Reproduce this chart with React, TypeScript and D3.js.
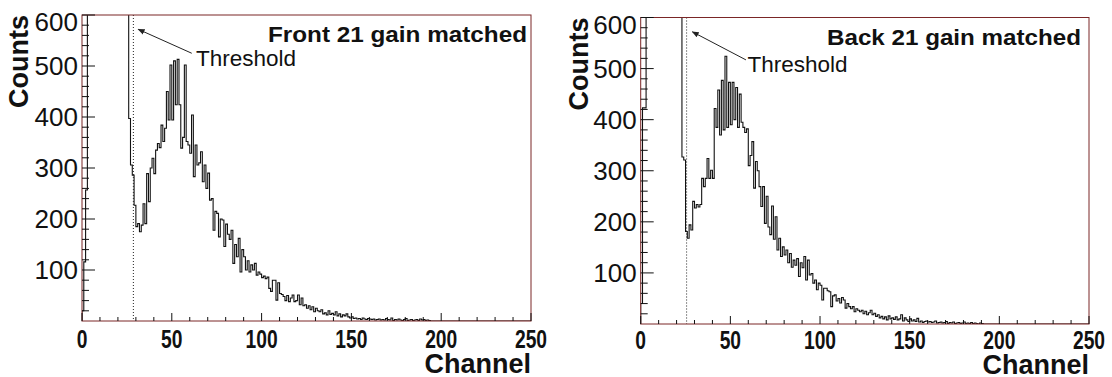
import React from "react";
import * as d3 from "d3";

// ---- Data (1000 = off-scale, clipped at 600) ----
const FRONT_COUNTS = [
  20, 116, 257, 1000, 1000, 1000, 1000, 1000, 1000, 1000,
  1000, 1000, 1000, 1000, 1000, 1000, 1000, 1000, 1000, 1000,
  1000, 1000, 1000, 1000, 1000, 1000, 397, 306, 286, 227,
  185, 191, 175, 188, 230, 191, 289, 234, 300, 319,
  289, 335, 348, 340, 384, 352, 378, 450, 394, 502,
  394, 510, 424, 513, 424, 339, 360, 502, 352, 345,
  329, 404, 283, 345, 306, 310, 332, 273, 306, 260,
  290, 237, 240, 178, 215, 211, 165, 200, 198, 146,
  190, 170, 160, 178, 113, 150, 126, 162, 96, 140,
  126, 100, 118, 96, 110, 100, 113, 90, 96, 92,
  85, 88, 83, 86, 64, 58, 80, 80, 41, 75,
  54, 52, 48, 40, 50, 38, 45, 51, 38, 40,
  51, 32, 45, 30, 32, 25, 30, 22, 28, 18,
  25, 20, 18, 22, 14, 16, 12, 20, 13, 15,
  12, 18, 10, 14, 8, 12, 10, 14, 8, 6,
  8, 5, 6, 4, 5, 3, 6, 4, 3, 5,
  4, 3, 4, 2, 3, 4, 2, 3, 2, 5,
  3, 2, 6, 1, 3, 2, 4, 2, 1, 3,
  5, 1, 2, 3, 1, 2, 3, 1, 4, 2,
  3, 1, 2, 1, 0, 0, 0, 0, 0, 0,
  0, 0, 0, 0, 0, 0, 0, 0, 0, 0,
  0, 0, 0, 0, 0, 0, 0, 0, 0, 0,
  0, 0, 0, 0, 0, 0, 0, 0, 0, 0,
  0, 0, 0, 0, 0, 0, 0, 0, 0, 0,
  0, 0, 0, 0, 0, 0, 0, 0, 0, 0,
];

const BACK_COUNTS = [
  40, 423, 423, 1000, 1000, 1000, 1000, 1000, 1000, 1000,
  1000, 1000, 1000, 1000, 1000, 1000, 1000, 1000, 1000, 1000,
  1000, 1000, 1000, 327, 321, 181, 168, 194, 184, 240,
  227, 234, 229, 234, 285, 269, 285, 324, 285, 301,
  285, 422, 385, 458, 370, 477, 380, 524, 385, 473,
  390, 473, 400, 463, 385, 450, 395, 385, 375, 382,
  310, 330, 357, 266, 318, 300, 269, 230, 269, 197,
  250, 190, 175, 231, 166, 210, 145, 168, 132, 151,
  135, 145, 120, 138, 111, 125, 115, 128, 93, 120,
  110, 132, 86, 125, 96, 99, 80, 86, 67, 80,
  76, 47, 70, 70, 65, 63, 34, 55, 57, 45,
  50, 41, 52, 47, 31, 40, 34, 30, 34, 24,
  30, 27, 24, 27, 20, 25, 18, 22, 27, 18,
  21, 15, 18, 12, 15, 10, 14, 8, 16, 10,
  12, 9, 14, 8, 10, 18, 6, 12, 8, 5,
  10, 6, 8, 5, 11, 4, 6, 3, 5, 6,
  4, 5, 3, 4, 6, 2, 3, 4, 2, 3,
  5, 1, 3, 2, 4, 1, 2, 3, 1, 2,
  4, 1, 2, 1, 3, 1, 2, 1, 0, 2,
  1, 0, 0, 0, 0, 0, 0, 0, 0, 0,
  0, 0, 0, 0, 0, 0, 0, 0, 0, 0,
  0, 0, 0, 0, 0, 0, 0, 0, 0, 0,
  0, 0, 0, 0, 0, 0, 0, 0, 0, 0,
  0, 0, 0, 0, 0, 0, 0, 0, 0, 0,
  0, 0, 0, 0, 0, 0, 0, 0, 0, 0,
];

const TITLES = ["Front 21 gain matched", "Back 21 gain matched"];
const THRESHOLDS = [28.6, 25.6];
const X_TICKS = [0, 50, 100, 150, 200, 250];
const Y_TICKS = [100, 200, 300, 400, 500, 600];
const X_DOMAIN = [0, 250];
const Y_DOMAIN = [0, 600];
// annotation anchor points in data units: [arrow tip, arrow tail, text]
const ANNOT_FRONT = [[31.3, 572], [61.1, 525], [63.5, 500]];
const ANNOT_BACK = [[28.8, 572], [58.7, 517], [59.6, 494]];

const W = 1112;
const H = 377;

const PANELS = [
  { id: "front", counts: FRONT_COUNTS, title: TITLES[0], thr: THRESHOLDS[0], annot: ANNOT_FRONT,
    x0: 82, x1: 531, yTop: 15, yBot: 321, titleEnd: 527, labelX: 28, titleW: 259,
    tickLabelY: 348, channelY: 372.5 },
  { id: "back", counts: BACK_COUNTS, title: TITLES[1], thr: THRESHOLDS[1], annot: ANNOT_BACK,
    x0: 640.7, x1: 1089, yTop: 17.5, yBot: 324, titleEnd: 1081, labelX: 588, titleW: 254,
    tickLabelY: 348.5, channelY: 373.5 },
];

const FRAME = "#7a2626";
const SANS = "'Liberation Sans', Arial, Helvetica, sans-serif";

function Panel({ p }: { p: any }) {
  const x = d3.scaleLinear().domain(X_DOMAIN).range([p.x0, p.x1]);
  const y = d3.scaleLinear().domain(Y_DOMAIN).range([p.yBot, p.yTop]);
  const pts: [number, number][] = [[0, 0]];
  p.counts.forEach((v: number, i: number) => pts.push([i, v]));
  pts.push([p.counts.length, p.counts[p.counts.length - 1]]);
  const line = d3
    .line<[number, number]>()
    .x((d) => x(d[0]))
    .y((d) => y(d[1]))
    .curve(d3.curveStepAfter);
  const clipId = "clip-" + p.id;
  const minorX = d3.range(0, 251, 10).filter((v) => v % 50 !== 0);
  const minorY = d3.range(20, 600, 20).filter((v) => v % 100 !== 0);
  const [tip, tail, txt] = p.annot;
  const markerId = "arrow-" + p.id;
  return (
    <g>
      <defs>
        <clipPath id={clipId}>
          <rect x={p.x0} y={p.yTop} width={p.x1 - p.x0} height={p.yBot - p.yTop} />
        </clipPath>
        <marker id={markerId} viewBox="0 0 10 10" refX="9" refY="5" markerWidth="7" markerHeight="7" orient="auto-start-reverse" markerUnits="userSpaceOnUse">
          <path d="M0,1 L10,5 L0,9 Z" fill="#222" />
        </marker>
      </defs>
      {/* histogram */}
      <path d={line(pts) || ""} fill="none" stroke="#111" strokeWidth={1.1} clipPath={`url(#${clipId})`} />
      {/* threshold dotted line */}
      <line x1={x(p.thr)} x2={x(p.thr)} y1={p.yTop} y2={p.yBot} stroke="#222" strokeWidth={1} strokeDasharray="1,2" />
      {/* frame */}
      <rect x={p.x0} y={p.yTop} width={p.x1 - p.x0} height={p.yBot - p.yTop} fill="none" stroke={FRAME} strokeWidth={1} />
      {/* ticks */}
      {X_TICKS.map((t) => (
        <line key={"xm" + t} x1={x(t)} x2={x(t)} y1={p.yBot} y2={p.yBot - 8} stroke="#111" strokeWidth={1} />
      ))}
      {minorX.map((t) => (
        <line key={"xn" + t} x1={x(t)} x2={x(t)} y1={p.yBot} y2={p.yBot - 4} stroke="#111" strokeWidth={1} />
      ))}
      {Y_TICKS.map((t) => (
        <line key={"ym" + t} x1={p.x0} x2={p.x0 + 13} y1={y(t)} y2={y(t)} stroke="#111" strokeWidth={1} />
      ))}
      {minorY.map((t) => (
        <line key={"yn" + t} x1={p.x0} x2={p.x0 + 7} y1={y(t)} y2={y(t)} stroke="#111" strokeWidth={1} />
      ))}
      {/* y tick labels */}
      {Y_TICKS.map((t) => (
        <text key={"yl" + t} x={p.x0 - 4} y={y(t) + (t === 600 ? 7 : 0)} dy="0.36em" textAnchor="end"
          fontFamily={SANS} fontSize={26} fill="#111">{t}</text>
      ))}
      {/* x tick labels */}
      {X_TICKS.map((t) => {
        const s = String(t);
        return (
          <text key={"xl" + t} x={x(t)} y={p.tickLabelY} textAnchor="middle" fontFamily={SANS}
            fontWeight="bold" fontSize={25} fill="#111" textLength={s.length * 10.7} lengthAdjust="spacingAndGlyphs">{s}</text>
        );
      })}
      {/* axis titles */}
      <text x={p.x1} y={p.channelY} textAnchor="end" fontFamily={SANS} fontWeight="bold" fontSize={27} fill="#111">Channel</text>
      <text transform={`translate(${p.labelX},${p.yTop}) rotate(-90)`} textAnchor="end" fontFamily={SANS}
        fontWeight="bold" fontSize={27} fill="#111">Counts</text>
      {/* title */}
      <text x={p.titleEnd} y={y(547)} textAnchor="end" fontFamily={SANS} fontWeight="bold" fontSize={22}
        fill="#111" textLength={p.titleW} lengthAdjust="spacingAndGlyphs">{p.title}</text>
      {/* annotation */}
      <line x1={x(tail[0])} y1={y(tail[1])} x2={x(tip[0])} y2={y(tip[1])} stroke="#222" strokeWidth={1} markerEnd={`url(#${markerId})`} />
      <text x={x(txt[0])} y={y(txt[1])} fontFamily={SANS} fontSize={22} fill="#111"
        textLength={100} lengthAdjust="spacingAndGlyphs">Threshold</text>
    </g>
  );
}

export default function App() {
  return (
    <svg width={W} height={H} style={{ position: "absolute", left: 0, top: 0, background: "#fff" }}>
      <rect width={W} height={H} fill="#fff" />
      {PANELS.map((p) => (
        <Panel key={p.id} p={p} />
      ))}
    </svg>
  );
}
